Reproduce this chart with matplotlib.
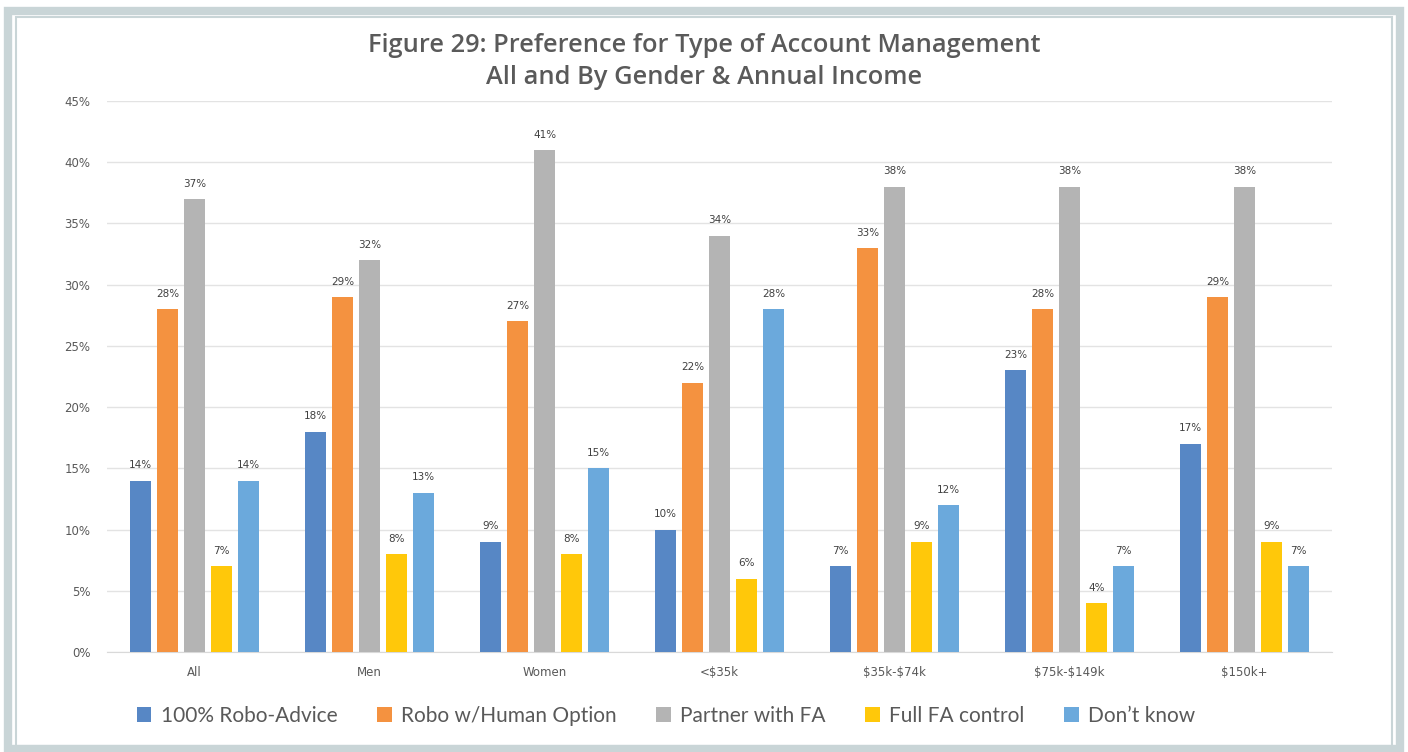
import numpy as np
import matplotlib.pyplot as plt
from matplotlib.patches import Rectangle

# Datos
groups = ["All", "Men", "Women", "<$35k", "$35k-$74k", "$75k-$149k", "$150k+"]
series = ["100% Robo-Advice", "Robo w/Human Option", "Partner with FA", "Full FA control", "Don\u2019t know"]
robo = [14, 18, 9, 10, 7, 23, 17]
robo_human = [28, 29, 27, 22, 33, 28, 29]
partner_fa = [37, 32, 41, 34, 38, 38, 38]
full_fa = [7, 8, 8, 6, 9, 4, 9]
dont_know = [14, 13, 15, 28, 12, 7, 7]
yticks = [0, 5, 10, 15, 20, 25, 30, 35, 40, 45]

values = [robo, robo_human, partner_fa, full_fa, dont_know]
colors = ["#5787C5", "#F49240", "#B4B4B4", "#FFC80A", "#6BA9DC"]

plt.rcParams["text.parse_math"] = False

fig = plt.figure(figsize=(14.08, 7.52), dpi=100)

# Marco exterior
fig.patches.append(Rectangle((0.006, 0.004), 0.988, 0.982, transform=fig.transFigure,
                             fill=False, edgecolor="#C9D5D7", linewidth=6, zorder=0))
fig.patches.append(Rectangle((0.0115, 0.008), 0.977, 0.970, transform=fig.transFigure,
                             fill=False, edgecolor="#C9D5D7", linewidth=1.5, zorder=0))

ax = fig.add_axes([107 / 1408, 1 - 652 / 752, (1332 - 107) / 1408, (652 - 101) / 752])

x = np.arange(len(groups))
step = 0.154
width = 0.122
for i, (name, vals, c) in enumerate(zip(series, values, colors)):
    pos = x + (i - 2) * step
    bars = ax.bar(pos, vals, width=width, color=c, label=name, zorder=3)
    for b, v in zip(bars, vals):
        ax.text(b.get_x() + b.get_width() / 2, v + 0.85, f"{v}%", ha="center", va="bottom",
                fontsize=7.5, color="#404040", family="DejaVu Sans")

ax.set_xlim(-0.5, len(groups) - 0.5)
ax.set_ylim(0, 45)
ax.set_yticks(yticks)
ax.set_yticklabels([f"{t}%" for t in yticks], fontsize=8.5, color="#595959")
ax.set_xticks(x)
ax.set_xticklabels(groups, fontsize=8.5, color="#595959")
ax.tick_params(length=0, pad=10)
ax.tick_params(axis="y", pad=12)
ax.grid(axis="y", color="#E3E3E3", linewidth=1, zorder=0)
for s in ["top", "right", "left"]:
    ax.spines[s].set_visible(False)
ax.spines["bottom"].set_color("#D9D9D9")

fig.text(0.5, 1 - 46 / 752, "Figure 29: Preference for Type of Account Management",
         ha="center", va="center", fontsize=18.3, color="#5a5a5a", family="Open Sans",
         fontweight="semibold")
fig.text(0.5, 1 - 77 / 752, "All and By Gender & Annual Income",
         ha="center", va="center", fontsize=18.3, color="#5a5a5a", family="Open Sans",
         fontweight="semibold")

fig.legend(loc="center", bbox_to_anchor=(0.473, 1 - 716 / 752), ncol=5, frameon=False,
           prop={"family": "Lato", "size": 15}, labelcolor="#595959",
           handlelength=0.7, handleheight=0.7, handletextpad=0.45, columnspacing=1.9)

fig.savefig("out.png", dpi=100)
